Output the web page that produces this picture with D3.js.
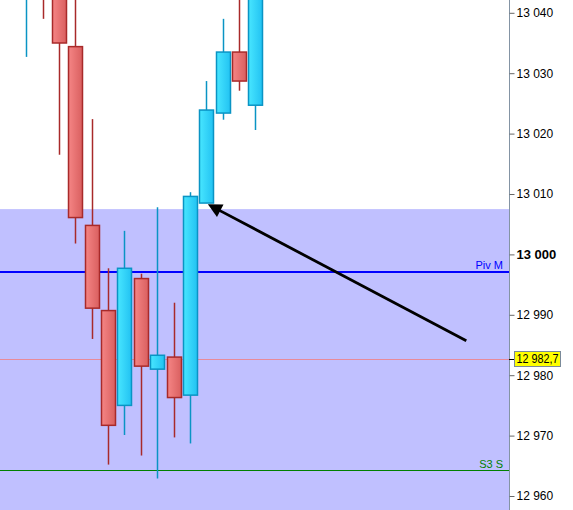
<!DOCTYPE html>
<html>
<head>
<meta charset="utf-8">
<script src="https://cdn.jsdelivr.net/npm/d3@7"></script>
<style>
html,body{margin:0;padding:0;background:#fff;}
svg{display:block;font-family:"Liberation Sans",Arial,sans-serif;}
</style>
</head>
<body>
<svg id="chart" width="573" height="510"></svg>
<script>
// ---- data ----
const candleIndex = [0,1,2,3,4,5,6,7,8,9,10,11,12,13,14];
const opens  = [13045, 13052, 13046, 13034.4, 13004.8, 12990.7, 12975.0, 12996.0, 12981.0, 12983.0, 12976.7, 13008.5, 13023.4, 13033.5, 13024.7];
const highs  = [13052, 13056, 13048, 13044, 13022.4, 12997.7, 13003.9, 12996.8, 13007.8, 12992.0, 13010.3, 13028.7, 13039.0, 13045, 13050];
const lows   = [13032.7, 13039, 13016.5, 13001.8, 12986.0, 12965.2, 12970.1, 12966.7, 12962.9, 12969.7, 12968.7, 13008.5, 13022.3, 13027.1, 13020.6];
const closes = [13049, 13046, 13035.0, 13006.1, 12991.1, 12971.7, 12997.7, 12981.5, 12983.3, 12976.3, 13009.6, 13023.9, 13033.5, 13028.7, 13046];
const tickValues = [12960, 12970, 12980, 12990, 13000, 13010, 13020, 13030, 13040];
const zoneTop = 13007.5;
const pivotLevels = [{name:"Piv M", value:12997.1}, {name:"S3 S", value:12964.3}];
const lastPrice = 12982.7;
const arrowFrom = {i:26.9, v:12985.7};
const arrowTo = {i:11.1, v:13008.3};

// ---- layout ----
const W = 573, H = 510, axisX = 509;
const svg = d3.select("#chart");
const x = d3.scaleLinear().domain([0, 14]).range([26.3, 255.3]);
const y = d3.scaleLinear().domain([12960, 13040]).range([496.0, 12.8]);
const bodyW = 14;

const defs = svg.append("defs");
defs.append("clipPath").attr("id","plot").append("rect").attr("x",0).attr("y",0).attr("width",axisX).attr("height",H);
function grad(id, c1, c2){
  const g = defs.append("linearGradient").attr("id",id).attr("x1","0%").attr("x2","100%").attr("y1","0%").attr("y2","0%");
  g.append("stop").attr("offset","0%").attr("stop-color",c1);
  g.append("stop").attr("offset","100%").attr("stop-color",c2);
}
grad("gRed", "#f58585", "#d95f5f");
grad("gBlue", "#48e6ff", "#22c2f2");

const plot = svg.append("g").attr("clip-path","url(#plot)");

// zone
plot.append("rect").attr("x",0).attr("width",axisX)
  .attr("y", y(zoneTop)).attr("height", H - y(zoneTop)).attr("fill","#c0c0ff");

// last price line
plot.append("line").attr("x1",0).attr("x2",axisX)
  .attr("y1", Math.round(y(lastPrice))+0.5).attr("y2", Math.round(y(lastPrice))+0.5)
  .attr("stroke","#e88a9a").attr("stroke-width",1);

// pivot lines
const pivColors = {"Piv M":"#0000ff", "S3 S":"#008000"};
const pivWidth = {"Piv M":2, "S3 S":1};
pivotLevels.forEach(p => {
  const yy = Math.round(y(p.value)) + (pivWidth[p.name] === 1 ? 0.5 : 0);
  plot.append("line").attr("x1",0).attr("x2",axisX).attr("y1",yy).attr("y2",yy)
    .attr("stroke",pivColors[p.name]).attr("stroke-width",pivWidth[p.name]);
  svg.append("text").attr("x",503).attr("y",yy-3).attr("text-anchor","end")
    .attr("font-size","11px").attr("fill",pivColors[p.name]).text(p.name);
});

// candles
const candles = candleIndex.map(i => ({i, o:opens[i], h:highs[i], l:lows[i], c:closes[i]}));
const cg = plot.selectAll("g.candle").data(candles).enter().append("g").attr("class","candle");
cg.append("line")
  .attr("x1", d => Math.round(x(d.i))+0.5).attr("x2", d => Math.round(x(d.i))+0.5)
  .attr("y1", d => y(d.h)).attr("y2", d => y(d.l))
  .attr("stroke", d => d.c >= d.o ? "#0a94c4" : "#a82a2a").attr("stroke-width",1.5);
cg.append("rect")
  .attr("x", d => Math.round(x(d.i)) - bodyW/2 + 0.5)
  .attr("width", bodyW)
  .attr("y", d => y(Math.max(d.o,d.c)))
  .attr("height", d => Math.max(1, y(Math.min(d.o,d.c)) - y(Math.max(d.o,d.c))))
  .attr("fill", d => d.c >= d.o ? "url(#gBlue)" : "url(#gRed)")
  .attr("stroke", d => d.c >= d.o ? "#0a94c4" : "#a82a2a").attr("stroke-width",1.5);

// arrow
const ax1 = x(arrowFrom.i), ay1 = y(arrowFrom.v), ax2 = x(arrowTo.i), ay2 = y(arrowTo.v);
const dx = ax2-ax1, dy = ay2-ay1, len = Math.hypot(dx,dy), ux = dx/len, uy = dy/len;
const hl = 14, hw = 7;
const bx = ax2 - ux*hl, by = ay2 - uy*hl;
svg.append("line").attr("x1",ax1).attr("y1",ay1).attr("x2",bx+ux*2).attr("y2",by+uy*2)
  .attr("stroke","#000").attr("stroke-width",2.8);
svg.append("polygon").attr("points", [
  [ax2,ay2], [bx - uy*hw, by + ux*hw], [bx + uy*hw, by - ux*hw]
].map(p=>p.join(",")).join(" ")).attr("fill","#000");

// axis
svg.append("line").attr("x1",axisX+0.5).attr("x2",axisX+0.5).attr("y1",0).attr("y2",H)
  .attr("stroke","#8494a4").attr("stroke-width",1);
const fmt = v => d3.format(",")(v).replace(/,/g," ");
const axis = d3.axisRight(y).tickValues(tickValues).tickSize(5).tickPadding(2).tickFormat(fmt);
const ag = svg.append("g").attr("transform",`translate(${axisX+0.5},0)`).call(axis);
ag.select(".domain").remove();
ag.selectAll(".tick line").attr("stroke","#666");
ag.selectAll(".tick text").attr("fill","#000")
  .attr("font-family","'Liberation Sans',Arial,sans-serif")
  .attr("font-weight", d => d === 13000 ? "bold" : "normal")
  .attr("font-size", d => d === 13000 ? "13px" : "12px");

// last price label
const ly = y(lastPrice);
svg.append("line").attr("x1",axisX).attr("x2",axisX+5).attr("y1",Math.round(ly)+0.5).attr("y2",Math.round(ly)+0.5).attr("stroke","#000");
svg.append("rect").attr("x",514.5).attr("y",Math.round(ly)-7.5).attr("width",46).attr("height",15)
  .attr("fill","#ffff00").attr("stroke","#7a8a9a").attr("stroke-width",1);
svg.append("text").attr("x",537.5).attr("y",ly+4.5).attr("text-anchor","middle")
  .attr("font-size","12px").attr("textLength",42).attr("lengthAdjust","spacingAndGlyphs")
  .attr("fill","#000").text(d3.format(".1f")(lastPrice).replace(".", ",").replace(/^(\d{2})(\d{3})/, "$1 $2"));
</script>
</body>
</html>
